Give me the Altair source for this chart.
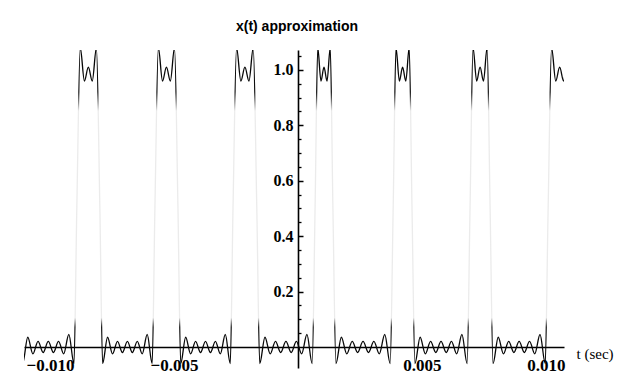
import altair as alt
import pandas as pd

# Pulse edges (milliseconds)
rise_ms = [-12.07, -8.92, -5.77, -2.62, 0.69, 3.84, 6.94, 10.09]
fall_ms = [-11.22, -7.99, -4.84, -1.66, 1.41, 4.60, 7.75, 11.02]

# Shape across a pulse top (fraction of pulse width -> value)
top_frac = [0.0, 0.15, 0.33, 0.5, 0.67, 0.85, 1.0]
top_val = [0.5, 1.08, 0.96, 1.01, 0.96, 1.08, 0.5]

# Ripple across a gap between pulses (fraction of gap -> value)
gap_frac = [0.05, 0.14, 0.23, 0.32, 0.41, 0.50, 0.59, 0.68, 0.77, 0.86, 0.95]
gap_val = [-0.06, 0.035, -0.025, 0.02, -0.02, 0.02, -0.02, 0.02, -0.025, 0.045, -0.06]

y_major = [0.2, 0.4, 0.6, 0.8, 1.0]
y_minor = [0.05, 0.1, 0.15, 0.25, 0.3, 0.35, 0.45, 0.5, 0.55, 0.65, 0.7, 0.75,
           0.85, 0.9, 0.95, 1.05]
x_ticks = [-0.010, -0.005, 0.005, 0.010]

rows = []
for i, (r, f) in enumerate(zip(rise_ms, fall_ms)):
    w = f - r
    for fr, v in zip(top_frac, top_val):
        rows.append({"t": (r + fr * w) / 1000.0, "x": v})
    if i + 1 < len(rise_ms):
        g = rise_ms[i + 1] - f
        for fr, v in zip(gap_frac, gap_val):
            rows.append({"t": (f + fr * g) / 1000.0, "x": v})
df = pd.DataFrame(rows)

xs = alt.Scale(domain=[-0.01105, 0.01073], nice=False, zero=False)
ys = alt.Scale(domain=[-0.076, 1.072], nice=False, zero=False)

grad = alt.Gradient(
    gradient="linear", x1=0, x2=0, y1=0, y2=1,
    stops=[
        alt.GradientStop(offset=0.0, color="#000000"),
        alt.GradientStop(offset=0.14, color="#111111"),
        alt.GradientStop(offset=0.20, color="#ebebeb"),
        alt.GradientStop(offset=0.855, color="#ebebeb"),
        alt.GradientStop(offset=0.885, color="#111111"),
        alt.GradientStop(offset=1.0, color="#000000"),
    ],
)

serif = "Liberation Serif"

line = alt.Chart(df).mark_line(
    clip=True, strokeWidth=1.3, interpolate="monotone", color=grad
).encode(
    x=alt.X("t:Q", scale=xs, axis=alt.Axis(
        values=x_ticks, format=".3f", offset=-21, tickSize=0, labelPadding=10,
        labelFont=serif, labelFontSize=17, labelFontWeight="bold", labelColor="black",
        labelFlush=False, labelOverlap=False,
        domainColor="black", domainWidth=1.6, grid=False,
        title="t (sec)", titleX=552, titleY=6, titleAlign="left", titleBaseline="middle",
        titleFont=serif, titleFontSize=15, titleFontWeight="normal", titleColor="black")),
    y=alt.Y("x:Q", scale=ys, axis=alt.Axis(
        orient="left", offset=-274, values=y_major, format=".1f", tickSize=0,
        labelPadding=5, labelFont=serif, labelFontSize=16, labelFontWeight="bold",
        labelColor="black", domainColor="black", domainWidth=1.6, grid=False, title=None)),
)

major = alt.Chart(pd.DataFrame({"v": y_major})).mark_point(opacity=0).encode(
    y=alt.Y("v:Q", scale=ys, axis=alt.Axis(
        orient="right", offset=-266, values=y_major, tickSize=5, tickWidth=1.5,
        tickColor="black", labels=False, domain=False, grid=False, title=None)),
)

minor = alt.Chart(pd.DataFrame({"v": y_minor})).mark_point(opacity=0).encode(
    y=alt.Y("v:Q", scale=ys, axis=alt.Axis(
        orient="right", offset=-266, values=y_minor, tickSize=3, tickWidth=1.3,
        tickColor="black", labels=False, domain=False, grid=False, title=None)),
)

chart = alt.layer(line, major, minor).resolve_axis(y="independent").properties(
    width=540, height=318,
    title=alt.Title("x(t) approximation", font="Liberation Sans", fontSize=14,
                    fontWeight="bold", color="black", anchor="middle", offset=16, dx=3),
    autosize=alt.AutoSizeParams(type="none"),
    padding={"left": 24, "top": 50, "right": 69, "bottom": 6},
).configure_view(stroke=None)

chart.save("out.html", embed_options={"renderer": "svg", "actions": False})
